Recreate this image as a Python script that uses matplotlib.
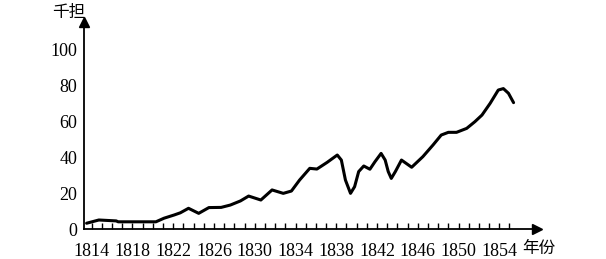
import matplotlib.pyplot as plt
import numpy as np

# data (year, thousand dan)
years = [1813.5, 1814.7, 1816.4, 1816.6, 1818.0, 1820.3, 1821.1, 1822.1, 1822.7,
         1823.5, 1824.5, 1825.5, 1826.7, 1827.6, 1828.6, 1829.4, 1830.6, 1831.7,
         1832.8, 1833.6, 1834.4, 1835.4, 1836.1, 1837.1, 1838.1, 1838.5, 1838.9,
         1839.4, 1839.8, 1840.2, 1840.7, 1841.3, 1841.8, 1842.4, 1842.8, 1843.1,
         1843.4, 1843.8, 1844.4, 1845.4, 1846.5, 1847.5, 1848.3, 1849.0, 1849.8,
         1850.8, 1851.6, 1852.3, 1853.1, 1853.9, 1854.4, 1854.9, 1855.4]
values = [3.2, 5.0, 4.5, 4.0, 4.0, 4.0, 6.0, 7.8, 9.0,
          11.5, 8.7, 11.9, 12.0, 13.3, 15.6, 18.3, 16.1, 21.7,
          19.8, 21.1, 27.2, 33.7, 33.3, 37.0, 41.1, 38.3, 27.2,
          19.8, 23.5, 31.9, 35.0, 33.2, 37.4, 42.0, 38.3, 31.9,
          28.1, 31.9, 38.3, 34.3, 40.2, 46.7, 52.2, 53.7, 53.7,
          55.9, 59.6, 63.3, 69.8, 77.2, 78.0, 75.4, 70.2]

label_years = list(range(1814, 1855, 4))
all_years = list(range(1814, 1856))
y_ticks = [0, 20, 40, 60, 80, 100]

serif = 'Liberation Serif'
cjk = ['Noto Sans CJK SC', 'DejaVu Sans']

fig = plt.figure(figsize=(6.06, 2.59), dpi=100)
ax = fig.add_axes([84 / 606, 30 / 259, (537 - 84) / 606, (229 - 21.7) / 259])

ax.plot(years, values, color='black', lw=2.2, solid_joinstyle='round',
        solid_capstyle='round')

ax.set_xlim(1814 - 7.7 / 10.19, 1814 + (537 - 91.7) / 10.19)
ax.set_ylim(0, (229 - 21.7) / 1.8)

for s in ['top', 'right']:
    ax.spines[s].set_visible(False)
for s in ['left', 'bottom']:
    ax.spines[s].set_linewidth(1.3)

# arrow heads on axes
ax.plot(1, 0, '>', color='black', ms=7, transform=ax.transAxes, clip_on=False)
ax.plot(0, 1, '^', color='black', ms=7, transform=ax.transAxes, clip_on=False)

ax.set_xticks(label_years)
ax.set_xticks(all_years, minor=True)
ax.set_xticklabels([str(y) for y in label_years], family=serif, fontsize=13)
ax.tick_params(axis='x', which='both', direction='in', length=4, width=1,
               pad=10)
ax.set_yticks(y_ticks)
ax.set_yticklabels([str(v) for v in y_ticks], family=serif, fontsize=13)
ax.tick_params(axis='y', length=0, pad=5)

fig.text(69 / 606, 1 - 12 / 259, '千担', family=cjk, fontsize=12,
         ha='center', va='center')
fig.text(539 / 606, 1 - 248 / 259, '年份', family=cjk, fontsize=12,
         ha='center', va='center')

fig.savefig('out.png', dpi=100)
